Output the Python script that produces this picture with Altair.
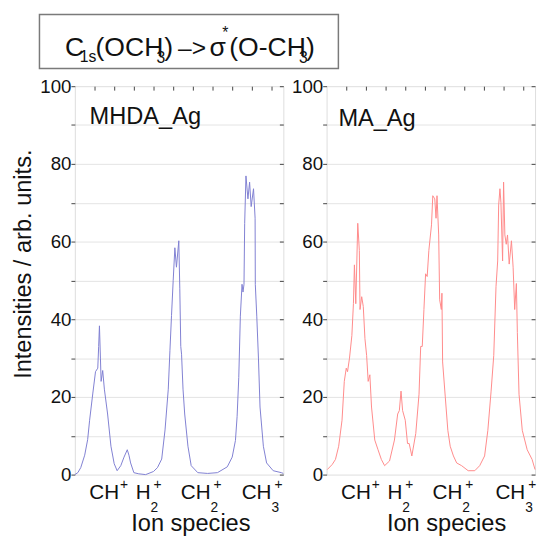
import altair as alt
import pandas as pd

# ---------------- data ----------------
# MHDA_Ag (blue) trace: channel position and intensity
mhda_x = [0, 3, 6, 10, 13, 15, 18.3, 21, 23.3, 24.2, 25, 26, 26.7, 28.3, 30, 33.3, 36.7, 40, 43,
          46.7, 50, 53.3, 55, 56.7, 60, 65, 72, 80, 84, 88.3, 91.7, 95, 96.7, 98.3, 100, 101.7,
          103.3, 105.7, 106.7, 107.7, 108.5, 110, 111.7, 115, 118.3, 125, 135, 145, 155, 160,
          163.3, 165, 166.7, 168.3, 170, 171, 172, 172.7, 174, 176, 177.7, 179.3, 181.7, 183.3,
          183.5, 185, 186.7, 188.3, 191.7, 195, 201.7, 210, 212]
mhda_y = [0, 0.5, 1.8, 5, 9, 14, 21, 26.5, 27.4, 33, 38.3, 30, 24, 26.8, 22, 15.6, 7.3, 2.8, 1,
          2.3, 4.5, 6.4, 5, 3, 0.5, 0.2, 0, 0.8, 1.8, 4, 11.5, 22, 32, 41, 50, 58.4,
          53.4, 60.2, 48, 33, 31, 22, 15.6, 7.3, 2.3, 0.5, 0.3, 0.5, 2, 4.5,
          8.8, 15, 25, 40.8, 49, 47, 49, 64.7, 76.9, 71, 75.3, 69, 73.6, 66,
          49, 40.8, 30, 17.4, 7.3, 3, 1, 0.5, 0.3]

# MA_Ag (red) trace
ma_x = [0.7, 5.7, 9, 12.3, 15.7, 18, 20, 21.3, 23.3, 25.7, 27.3, 28.3, 29.7, 31.7, 33.3, 34,
        35.7, 37.3, 39, 40.7, 42.3, 44, 45.7, 49, 52.3, 55.7, 59, 64, 69, 72.3, 74, 75.7, 77.3,
        80, 82.3, 84, 86.7, 90.7, 94, 95.7, 97.3, 99, 100.7, 102.3, 104, 106.7, 108, 110,
        111.3, 112.3, 114, 115, 116.7, 117.3, 118, 120.7, 123.3, 125.7, 129, 132.3, 137.3,
        144, 150.7, 155.7, 160.7, 164, 167.3, 170, 172.3, 174, 175, 176.3, 177.3, 179, 180,
        181.3, 182.7, 184, 185.7, 188, 189.7, 191.3, 193, 194, 195.7, 199, 204, 209, 212]
ma_y = [1.3, 2.6, 3.9, 7.3, 14, 24, 27.4, 26.5, 30, 35.8, 44, 54, 44, 64.7, 57.7, 42.5,
        45.8, 43.3, 35, 30.7, 24, 25.7, 17.4, 8.9, 6.4, 3.9, 2.3, 3.5, 8.9, 15.6, 16.5, 21.5, 16.5,
        14, 8, 8, 4.8, 10.6, 20.7, 33, 33, 42.5, 51.7, 51, 57.7, 64.3, 71.8, 71,
        66, 71.8, 61.7, 45, 42.5, 46.7, 29, 20, 11.4, 7.3, 4.8, 3, 2.3,
        1, 1, 2.3, 4.8, 11.4, 21.5, 30.7, 48.4, 55, 69.4, 73.6, 70, 55, 75.3,
        61.7, 59.3, 61.7, 54.2, 60.2, 53.4, 42.5, 49.2, 36.6, 20.7, 11.4, 6.4, 3.9, 1.3]

ion_base = ["CH", "H", "CH", "CH"]
ion_sub = ["", "2", "2", "3"]
ion_sup = ["+", "+", "+", "+"]
mhda_label_pos = [45, 77, 138, 200]
ma_label_pos = [45, 77, 138, 202]

y_ticks = list(range(0, 101, 10))
top_ticks = list(range(20, 201, 20))

# ---------------- layout / style ----------------
W, H = 212, 395
FONT = "Liberation Sans"
INK = "#111111"
FRAME = "#444444"

one = alt.Data(values=[{"a": 1}])


def note(text, x, y, size, align="left"):
    return alt.Chart(one).mark_text(
        text=text, align=align, baseline="alphabetic", font=FONT, fontSize=size, color=INK
    ).encode(x=alt.value(x), y=alt.value(y))


def panel(xs, ys, color, name, name_x, name_y, label_pos, ytitle, xtitle_x, extra=()):
    df = pd.DataFrame({"x": xs, "y": ys})
    xscale = alt.Scale(domain=[0, 212], nice=False, zero=False)
    yscale = alt.Scale(domain=[0, 100], nice=False)
    base = alt.Chart(df)

    yaxis_kw = dict(
        orient="left", values=y_ticks,
        labelExpr="datum.value % 20 == 0 ? datum.label : ''",
        tickSize=4, tickColor=FRAME, labelPadding=0, domain=False,
        grid=True, gridColor="#e3e3e3",
        gridOpacity={"condition": {"test": "datum.value == 0 || datum.value == 100", "value": 0}, "value": 1},
        labelFont=FONT, labelFontSize=19, labelColor=INK,
    )
    if ytitle:
        yaxis_kw.update(title=ytitle, titleX=-40, titleY=180.5, titleBaseline="bottom",
                        titleFont=FONT, titleFontSize=24, titleFontWeight="normal", titleColor=INK)
    else:
        yaxis_kw.update(title=None)

    line = base.mark_line(color=color, strokeWidth=1).encode(
        x=alt.X("x:Q", scale=xscale, axis=alt.Axis(
            orient="bottom", labels=False, ticks=False, domain=False, grid=False,
            title="Ion species", titleX=xtitle_x, titleY=57, titleBaseline="alphabetic",
            titleFont=FONT, titleFontSize=24, titleFontWeight="normal", titleColor=INK)),
        y=alt.Y("y:Q", scale=yscale, axis=alt.Axis(**yaxis_kw)),
    )

    ticks = base.mark_line(opacity=0).encode(
        x=alt.X("x:Q", scale=xscale, axis=alt.Axis(
            orient="top", values=top_ticks, labels=False, domain=False, grid=False,
            tickSize=4, offset=-4, tickColor=FRAME, title=None)),
        y=alt.Y("y:Q", scale=yscale, axis=alt.Axis(
            orient="right", values=y_ticks, labels=False, domain=False, grid=False,
            tickSize=4, offset=-4, tickColor=FRAME, title=None)),
    )

    lab = pd.DataFrame({"pos": label_pos, "base": ion_base, "sub": ion_sub, "sup": ion_sup})
    lx = alt.X("pos:Q", scale=xscale, axis=None)
    lchart = alt.Chart(lab)
    lbase = lchart.mark_text(align="right", baseline="alphabetic", font=FONT, fontSize=21,
                             color=INK).encode(x=lx, y=alt.value(H + 25), text="base:N")
    lsub = lchart.mark_text(align="left", baseline="alphabetic", font=FONT, fontSize=14,
                            color=INK, dx=0).encode(x=lx, y=alt.value(H + 38), text="sub:N")
    lsup_a = lchart.transform_filter("datum.sub == ''").mark_text(
        align="left", baseline="alphabetic", font=FONT, fontSize=14, color=INK, dx=1
    ).encode(x=lx, y=alt.value(H + 15), text="sup:N")
    lsup_b = lchart.transform_filter("datum.sub != ''").mark_text(
        align="left", baseline="alphabetic", font=FONT, fontSize=14, color=INK, dx=3
    ).encode(x=lx, y=alt.value(H + 15), text="sup:N")

    label = note(name, name_x, name_y, 24)

    layers = [line, ticks, lbase, lsub, lsup_a, lsup_b, label] + list(extra)
    return alt.layer(*layers).properties(width=W, height=H).resolve_axis(
        x="independent", y="independent")


# title box "C1s(OCH3) -> sigma*(O-CH3)" (placed above the left panel, pixel offsets)
box = alt.Chart(one).mark_rect(fill="white", fillOpacity=0, stroke="#7a7a7a", strokeWidth=1.5).encode(
    x=alt.value(-36), x2=alt.value(268), y=alt.value(-73), y2=alt.value(-18))
title_pieces = [
    ("C", -10, -31, 27), ("1s", 5, -25, 16), ("(OCH", 21, -31, 27), ("3", 83, -24, 16),
    (")", 91, -31, 27), ("–>", 105, -31, 25), ("σ", 137, -31, 27), ("*", 150, -49, 16),
    ("(O-CH", 157, -31, 27), ("3", 228, -24, 16), (")", 235, -31, 27),
]
title_layers = [box] + [note(t, x, y, s) for (t, x, y, s) in title_pieces]

left = panel(mhda_x, mhda_y, "#8080d2", "MHDA_Ag", 15, 38, mhda_label_pos,
             "Intensities / arb. units.", 117.5, extra=title_layers)
right = panel(ma_x, ma_y, "#ff8a8a", "MA_Ag", 12, 40, ma_label_pos, None, 121.5)

chart = alt.hconcat(left, right, spacing=44, bounds="flush").properties(
    padding={"left": 3, "top": 0, "right": 0, "bottom": 0}
).configure_view(stroke=FRAME, strokeWidth=1).configure(font=FONT)

chart.save("out.html", embed_options={"renderer": "svg", "actions": False})
